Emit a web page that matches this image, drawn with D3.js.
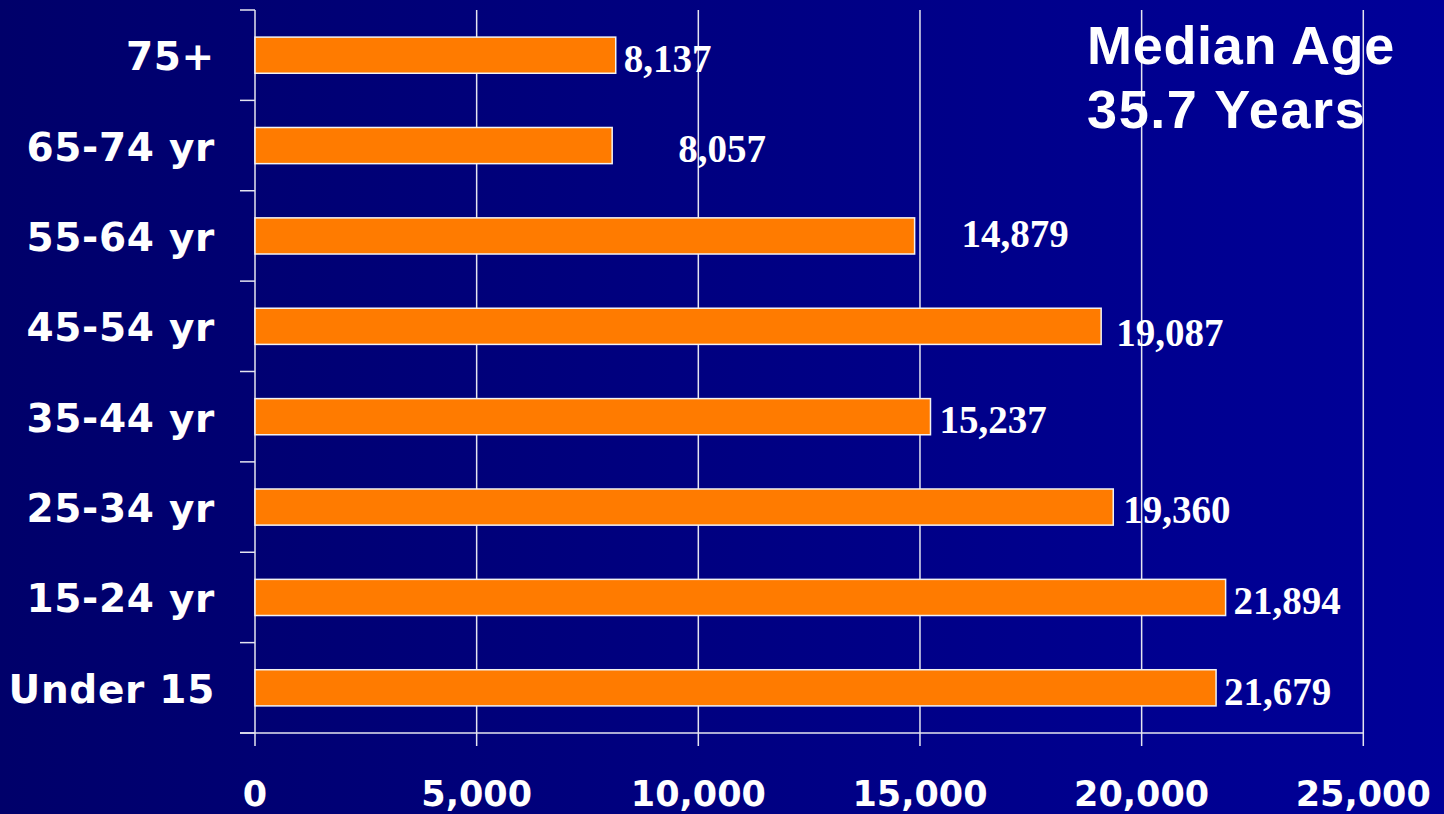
<!DOCTYPE html>
<html>
<head>
<meta charset="utf-8">
<script src="https://cdn.jsdelivr.net/npm/d3@7"></script>
<style>
  html, body { margin: 0; padding: 0; background: #00006b; }
  svg { display: block; }
</style>
</head>
<body>
<svg id="chart" width="1444" height="814"></svg>
<script>
// ---- data ----
const categories = ["75+", "65-74 yr", "55-64 yr", "45-54 yr", "35-44 yr", "25-34 yr", "15-24 yr", "Under 15"];
const values = [8137, 8057, 14879, 19087, 15237, 19360, 21894, 21679];
const xTicks = [0, 5000, 10000, 15000, 20000, 25000];
const titleLines = ["Median Age", "35.7 Years"];

// ---- layout (label nudges as placed in the original slide) ----
const labelDx = [8, 66, 47, 15, 9, 10, 8, 8];
const labelDy = [16.5, 16, 11, 20, 16, 15.5, 17, 17];
const titleSpacing = [0.7, 1.6];

const W = 1444, H = 814;
const svg = d3.select("#chart");

const defs = svg.append("defs");
const grad = defs.append("linearGradient").attr("id", "bg").attr("x1", "0").attr("x2", "1").attr("y1", "0").attr("y2", "0");
grad.append("stop").attr("offset", "0%").attr("stop-color", "#00006a");
grad.append("stop").attr("offset", "100%").attr("stop-color", "#000099");
svg.append("rect").attr("width", W).attr("height", H).attr("fill", "url(#bg)");

const x = d3.scaleLinear().domain([0, 25000]).range([255, 1363.3]);
const y = d3.scaleBand().domain(categories).range([10, 733]).paddingInner(0.6).paddingOuter(0.3);
const step = y.step();
const y0 = 10, y1 = 733;
const lineColor = "#e4e4f0";

// vertical gridlines + x ticks
svg.append("g").selectAll("line").data(xTicks.slice(1)).join("line")
  .attr("x1", d => x(d)).attr("x2", d => x(d))
  .attr("y1", y0).attr("y2", y1 + 13)
  .attr("stroke", lineColor).attr("stroke-width", 1.5);

// y axis line
svg.append("line").attr("x1", x(0)).attr("x2", x(0)).attr("y1", y0).attr("y2", y1 + 13)
  .attr("stroke", lineColor).attr("stroke-width", 1.5);
// x axis line
svg.append("line").attr("x1", x(0) - 15).attr("x2", x(25000)).attr("y1", y1).attr("y2", y1)
  .attr("stroke", lineColor).attr("stroke-width", 1.5);
// y ticks at category boundaries
svg.append("g").selectAll("line").data(d3.range(categories.length + 1)).join("line")
  .attr("x1", x(0) - 15).attr("x2", x(0))
  .attr("y1", i => y0 + i * step).attr("y2", i => y0 + i * step)
  .attr("stroke", lineColor).attr("stroke-width", 1.5);

// bars
svg.append("g").selectAll("rect").data(values).join("rect")
  .attr("x", x(0))
  .attr("y", (d, i) => y(categories[i]))
  .attr("width", d => x(d) - x(0))
  .attr("height", y.bandwidth())
  .attr("fill", "#ff7b00")
  .attr("stroke", "#f2f2f2").attr("stroke-width", 1.5);

// value labels
svg.append("g").selectAll("text").data(values).join("text")
  .attr("x", (d, i) => x(d) + labelDx[i])
  .attr("y", (d, i) => y(categories[i]) + y.bandwidth() / 2 + labelDy[i])
  .attr("fill", "#ffffff")
  .attr("font-family", "'Liberation Serif', 'Times New Roman', serif")
  .attr("font-weight", "bold")
  .attr("font-size", 39)
  .text(d => d3.format(",")(d));

// category labels
svg.append("g").selectAll("text").data(categories).join("text")
  .attr("x", 215)
  .attr("y", d => y(d) + y.bandwidth() / 2 + 15)
  .attr("text-anchor", "end")
  .attr("fill", "#ffffff")
  .attr("font-family", "'DejaVu Sans', Verdana, sans-serif")
  .attr("font-weight", "bold")
  .attr("font-size", 39)
  .attr("letter-spacing", 0.7)
  .text(d => d);

// x tick labels
svg.append("g").selectAll("text").data(xTicks).join("text")
  .attr("x", d => x(d))
  .attr("y", 806)
  .attr("text-anchor", "middle")
  .attr("fill", "#ffffff")
  .attr("font-family", "'DejaVu Sans', Verdana, sans-serif")
  .attr("font-weight", "bold")
  .attr("font-size", 35)
  .text(d => d3.format(",")(d));

// title
svg.append("g").selectAll("text").data(titleLines).join("text")
  .attr("x", 1087)
  .attr("y", (d, i) => 64 + i * 64)
  .attr("fill", "#ffffff")
  .attr("font-family", "'Liberation Sans', Arial, sans-serif")
  .attr("font-weight", "bold")
  .attr("font-size", 54)
  .attr("letter-spacing", (d, i) => titleSpacing[i])
  .text(d => d);
</script>
</body>
</html>
